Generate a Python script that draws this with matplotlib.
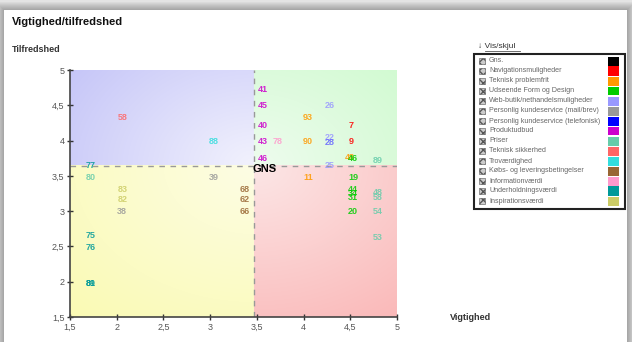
import matplotlib
matplotlib.use("Agg")
import matplotlib.pyplot as plt
import numpy as np
from matplotlib.patches import Rectangle
from matplotlib.lines import Line2D

plt.rcParams['font.family'] = ['Liberation Sans', 'DejaVu Sans']

# ---- data ----
series_names = ["Gns.", "Navigationsmuligheder", "Teknisk problemfrit", "Udseende Form og Design",
                "Web-butik/nethandelsmuligheder", "Personlig kundeservice (mail/brev)",
                "Personlig kundeservice (telefonisk)", "Produktudbud", "Priser", "Teknisk sikkerhed",
                "Troværdighed", "Købs- og leveringsbetingelser", "Informationværdi",
                "Underholdningsværdi", "Inspirationsværdi"]
series_colors = ["#000000", "#ff0000", "#ff9900", "#00cc00", "#9999ff", "#999999", "#0000ff",
                 "#cc00cc", "#66ccaa", "#ff6666", "#33dddd", "#996633", "#ff99cc", "#009999", "#cccc66"]

gns_x = 3.47
gns_y = 3.64

nav_lab = ["7", "9"]
nav_x = [4.51, 4.51]
nav_y = [4.22, 3.98]

tek_lab = ["93", "90", "11", "48"]
tek_x = [4.05, 4.05, 4.05, 4.50]
tek_y = [4.32, 3.98, 3.48, 3.76]

uds_lab = ["46", "19", "44", "34", "31", "20"]
uds_x = [4.53, 4.53, 4.53, 4.53, 4.53, 4.53]
uds_y = [3.75, 3.48, 3.31, 3.25, 3.19, 2.99]

web_lab = ["26", "22", "25"]
web_x = [4.28, 4.28, 4.28]
web_y = [4.49, 4.04, 3.64]

mail_lab = ["39", "38"]
mail_x = [3.04, 2.06]
mail_y = [3.48, 2.99]

tlf_lab = ["28"]
tlf_x = [4.28]
tlf_y = [3.97]

prod_lab = ["41", "45", "40", "43", "46"]
prod_x = [3.56, 3.56, 3.56, 3.56, 3.56]
prod_y = [4.73, 4.49, 4.21, 3.98, 3.75]

pris_lab = ["80", "89", "48", "58", "54", "53"]
pris_x = [1.72, 4.79, 4.79, 4.79, 4.79, 4.79]
pris_y = [3.48, 3.72, 3.27, 3.20, 2.99, 2.63]

sik_lab = ["58"]
sik_x = [2.06]
sik_y = [4.33]

trov_lab = ["88"]
trov_x = [3.04]
trov_y = [3.98]

kob_lab = ["68", "62", "66"]
kob_x = [3.37, 3.37, 3.37]
kob_y = [3.31, 3.16, 2.99]

info_lab = ["78"]
info_x = [3.72]
info_y = [3.98]

und_lab = ["77", "75", "76", "81", "89"]
und_x = [1.72, 1.72, 1.72, 1.72, 1.72]
und_y = [3.65, 2.65, 2.48, 1.97, 1.97]

insp_lab = ["83", "82"]
insp_x = [2.06, 2.06]
insp_y = [3.31, 3.16]

ticks = [1.5, 2, 2.5, 3, 3.5, 4, 4.5, 5]
tick_labels = ["1,5", "2", "2,5", "3", "3,5", "4", "4,5", "5"]

W, H = 632, 342
fig = plt.figure(figsize=(6.32, 3.42), dpi=100)
fig.patch.set_facecolor("#e4e4e4")


def fx(px):
    return px / W


def fy(py):
    return 1 - py / H


# screenshot panel with soft shadow
for i in range(8, 0, -1):
    fig.patches.append(Rectangle((fx(4 - i), fy(H + 20)), fx(623 + 2 * i), fy(10 - i) - fy(H + 20),
                                 transform=fig.transFigure, facecolor="black", alpha=0.035,
                                 edgecolor="none", zorder=0))
fig.patches.append(Rectangle((fx(4), fy(H + 20)), fx(623), fy(10) - fy(H + 20),
                             transform=fig.transFigure, facecolor="white", edgecolor="none", zorder=1))

ax = fig.add_axes([fx(70), fy(317), fx(397) - fx(70), fy(70) - fy(317)])
ax.set_zorder(2)


def quadrant(x0, x1, y0, y1, strong, light):
    xs = np.linspace(x0, x1, 80)
    ys = np.linspace(y0, y1, 80)
    X, Y = np.meshgrid(xs, ys)
    d = np.hypot((X - gns_x) / 3.5, (Y - gns_y) / 3.5)
    d = d / d.max()
    strong = np.array(strong) / 255.0
    light = np.array(light) / 255.0
    img = light + (strong - light) * d[..., None]
    ax.imshow(img, extent=[x0, x1, y0, y1], origin="lower", aspect="auto",
              interpolation="bilinear", zorder=0)


quadrant(1.5, gns_x, gns_y, 5, (198, 198, 248), (242, 242, 253))
quadrant(gns_x, 5, gns_y, 5, (210, 250, 210), (238, 252, 238))
quadrant(1.5, gns_x, 1.5, gns_y, (250, 250, 180), (253, 253, 228))
quadrant(gns_x, 5, 1.5, gns_y, (250, 185, 185), (252, 230, 230))

ax.axvline(gns_x, color="#999999", ls=(0, (4, 4)), lw=1, zorder=1)
ax.axhline(gns_y, color="#999999", ls=(0, (4, 4)), lw=1, zorder=1)
ax.text(gns_x - 0.02, gns_y - 0.04, "GNS", fontsize=8, fontweight="bold", color="black",
        ha="left", va="center", zorder=3)

groups = [
    (nav_lab, nav_x, nav_y, series_colors[1]),
    (tek_lab, tek_x, tek_y, series_colors[2]),
    (uds_lab, uds_x, uds_y, series_colors[3]),
    (web_lab, web_x, web_y, series_colors[4]),
    (mail_lab, mail_x, mail_y, series_colors[5]),
    (tlf_lab, tlf_x, tlf_y, "#6666ff"),
    (prod_lab, prod_x, prod_y, series_colors[7]),
    (pris_lab, pris_x, pris_y, series_colors[8]),
    (sik_lab, sik_x, sik_y, series_colors[9]),
    (trov_lab, trov_x, trov_y, series_colors[10]),
    (kob_lab, kob_x, kob_y, series_colors[11]),
    (info_lab, info_x, info_y, series_colors[12]),
    (und_lab, und_x, und_y, series_colors[13]),
    (insp_lab, insp_x, insp_y, series_colors[14]),
]
for labs, xs, ys, c in groups:
    for lab, x, y in zip(labs, xs, ys):
        ax.text(x, y, lab, color=c, fontsize=6.5, fontweight="bold", ha="center", va="center",
                alpha=0.85, zorder=3)

ax.set_xlim(1.5, 5)
ax.set_ylim(1.5, 5)
ax.set_xticks(ticks)
ax.set_xticklabels(tick_labels)
ax.set_yticks(ticks)
ax.set_yticklabels(tick_labels)
ax.tick_params(direction="inout", length=5, width=1, color="#333333", labelcolor="#555555",
               labelsize=6.5, pad=1.5)
for s in ["top", "right"]:
    ax.spines[s].set_visible(False)
for s in ["left", "bottom"]:
    ax.spines[s].set_color("#444444")
    ax.spines[s].set_linewidth(1.2)

fig.text(fx(12), fy(22), "Vigtighed/tilfredshed", fontsize=8, fontweight="bold", color="#111111",
         ha="left", va="center")
fig.text(fx(12), fy(50), "Tilfredshed", fontsize=6.5, fontweight="bold", color="#333333",
         ha="left", va="center")
fig.text(fx(450), fy(317), "Vigtighed", fontsize=6.5, fontweight="bold", color="#333333",
         ha="left", va="center")

# legend box
fig.text(fx(478), fy(46), "\u2193 Vis/skjul", fontsize=6, color="#333333", ha="left", va="center")
fig.lines.append(Line2D([fx(485), fx(520)], [fy(51), fy(51)], transform=fig.transFigure,
                        color="#555555", lw=0.6))
fig.patches.append(Rectangle((fx(474), fy(209)), fx(151), fy(54) - fy(209), transform=fig.transFigure,
                             facecolor="white", edgecolor="#222222", lw=1.5, zorder=2))
for i, (name, c) in enumerate(zip(series_names, series_colors)):
    yc = 61 + i * 10.0
    fig.patches.append(Rectangle((fx(479), fy(yc + 3)), fx(6), fy(yc - 3) - fy(yc + 3),
                                 transform=fig.transFigure, facecolor="#cccccc", edgecolor="#555555",
                                 hatch="xxxx", lw=0.4, zorder=3))
    fig.text(fx(489), fy(yc), name, fontsize=5.1, color="#666666", ha="left", va="center", zorder=3)
    fig.patches.append(Rectangle((fx(608), fy(yc + 4.5)), fx(11), fy(yc - 4.5) - fy(yc + 4.5),
                                 transform=fig.transFigure, facecolor=c, edgecolor="none", zorder=3))

fig.savefig("out.png", dpi=100, facecolor=fig.get_facecolor())
